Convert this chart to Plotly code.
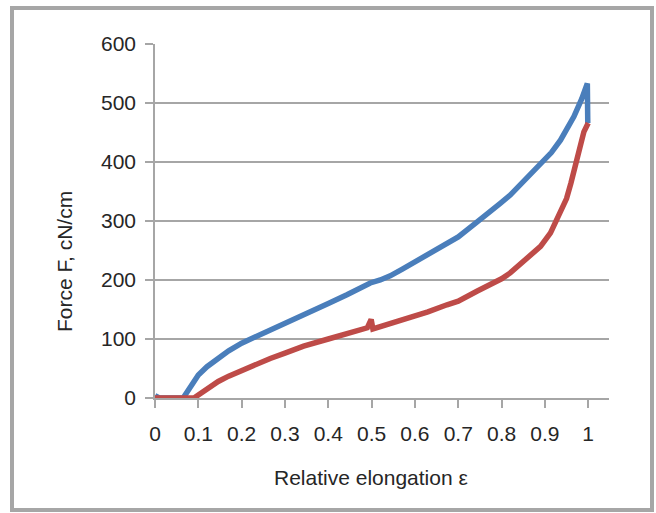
import plotly.graph_objects as go

# Relative elongation (x) and force in cN/cm (y) for the two samples
blue_x = [0.0, 0.01, 0.065, 0.07, 0.08, 0.09, 0.1, 0.12, 0.146, 0.17, 0.2, 0.243,
          0.27, 0.3, 0.343, 0.4, 0.443, 0.47, 0.497, 0.52, 0.543, 0.57, 0.597,
          0.63, 0.674, 0.7, 0.743, 0.77, 0.797, 0.82, 0.843, 0.87, 0.89, 0.915,
          0.936, 0.955, 0.967, 0.985, 0.998, 0.999]
blue_y = [4, 0, 0, 5, 17, 29, 39, 53, 68, 80, 93, 107,
          117, 127, 141, 160, 175, 185, 195, 200, 207, 218, 229,
          243, 260, 273, 298, 313, 330, 344, 361, 380, 395, 416,
          437, 460, 477, 507, 533, 466]

red_x = [0.0, 0.09, 0.1, 0.12, 0.146, 0.17, 0.2, 0.23, 0.266, 0.3, 0.343, 0.4,
         0.443, 0.47, 0.49, 0.495, 0.499, 0.503, 0.52, 0.543, 0.57, 0.597, 0.63,
         0.674, 0.7, 0.743, 0.77, 0.8, 0.82, 0.843, 0.87, 0.89, 0.913, 0.936,
         0.95, 0.96, 0.976, 0.99, 1.0]
red_y = [0, 0, 5, 15, 28, 37, 47, 56, 67, 76, 88, 100,
         109, 114, 119, 127, 133, 117, 121, 124, 131, 138, 146,
         158, 164, 181, 190, 202, 212, 226, 243, 257, 280, 313,
         338, 364, 409, 451, 466]

x_ticks = [0, 0.1, 0.2, 0.3, 0.4, 0.5, 0.6, 0.7, 0.8, 0.9, 1]
x_labels = ["0", "0.1", "0.2", "0.3", "0.4", "0.5", "0.6", "0.7", "0.8", "0.9", "1"]
y_ticks = [0, 100, 200, 300, 400, 500, 600]

W, H = 656, 513
L, R, T, B = 155, 47, 44, 115
PW, PH = W - L - R, H - T - B
FONT = "Liberation Sans, Arial, sans-serif"
GRAY = "#a6a6a6"
FS = 21


def px_x(px):
    return (px - L) / PW


def px_y(py):
    return (H - B - py) / PH


fig = go.Figure()
fig.add_trace(go.Scatter(x=blue_x, y=blue_y, mode="lines",
                         line=dict(color="#4a7ebb", width=5.5), showlegend=False))
fig.add_trace(go.Scatter(x=red_x, y=red_y, mode="lines",
                         line=dict(color="#be4b48", width=5.5), showlegend=False))

fig.update_layout(
    width=W, height=H,
    margin=dict(l=L, r=R, t=T, b=B),
    paper_bgcolor="white", plot_bgcolor="white",
    font=dict(family=FONT, size=FS, color="#262626"),
    xaxis=dict(range=[0, 1.048], tickvals=x_ticks, ticktext=x_labels,
               showgrid=False, zeroline=False, showline=True, linecolor=GRAY,
               linewidth=1.5, ticks="outside", ticklen=8, tickcolor=GRAY,
               tickwidth=1.5, tickfont=dict(size=FS), ticklabelstandoff=8),
    yaxis=dict(range=[0, 600], tickvals=y_ticks, showgrid=True, gridcolor=GRAY,
               gridwidth=1.5, zeroline=False, showline=True, linecolor=GRAY,
               linewidth=1.5, ticks="outside", ticklen=8, tickcolor=GRAY,
               tickwidth=1.5, tickfont=dict(size=FS), ticklabelstandoff=5),
    shapes=[dict(type="rect", xref="paper", yref="paper",
                 x0=px_x(12), x1=px_x(652), y0=px_y(510), y1=px_y(8),
                 line=dict(color=GRAY, width=4), layer="below")],
    annotations=[
        dict(text="Relative elongation ε", xref="paper", yref="paper",
             x=px_x(371), y=px_y(478), showarrow=False,
             xanchor="center", yanchor="middle", font=dict(size=FS)),
        dict(text="Force F, cN/cm", xref="paper", yref="paper",
             x=px_x(64), y=px_y(262), showarrow=False, textangle=-90,
             xanchor="center", yanchor="middle", font=dict(size=FS)),
    ],
)

fig.write_html("out.html")
